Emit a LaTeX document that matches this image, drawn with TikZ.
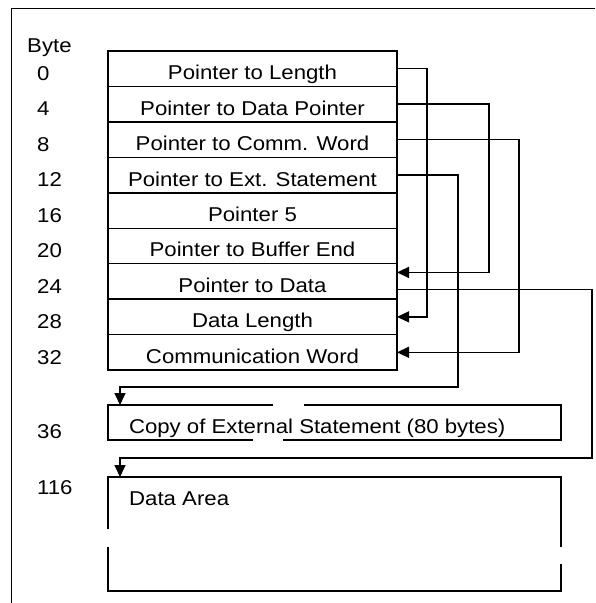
\documentclass[tikz,border=0pt]{standalone}
\usepackage{fontspec}
\setmainfont{Liberation Sans}[FakeStretch=1.11]
\usetikzlibrary{arrows.meta,positioning}

\begin{document}
\begin{tikzpicture}[x=1pt,y=-1pt,
    cell/.style={draw, line width=1.4pt, minimum width=289pt, minimum height=35.45pt,
      inner sep=0pt, outer sep=0pt, text height=22pt, text depth=0pt, font=\fontsize{20}{22}\selectfont},
    offs/.style={anchor=base west, inner sep=0pt, font=\fontsize{20}{22}\selectfont},
    area/.style={minimum width=453pt, inner sep=0pt, outer sep=0pt, anchor=north west},
    edge/.style={line width=1.4pt},
    ptr/.style={line width=1.4pt, -{Triangle[length=12pt,width=11pt]}}]
  \useasboundingbox (0,0) rectangle (595,603);

  % frame
  \draw[line width=1pt] (11,603) -- (11,8) -- (595,8);

  % the pointer block
  \node[cell, anchor=north west] (r0) at (108,51) {Pointer to Length};
  \node[cell, below=0pt of r0] (r1) {Pointer to Data Pointer};
  \node[cell, below=0pt of r1] (r2) {Pointer to Comm. Word};
  \node[cell, below=0pt of r2] (r3) {Pointer to Ext. Statement};
  \node[cell, below=0pt of r3] (r4) {Pointer 5};
  \node[cell, below=0pt of r4] (r5) {Pointer to Buffer End};
  \node[cell, below=0pt of r5] (r6) {Pointer to Data};
  \node[cell, below=0pt of r6] (r7) {Data Length};
  \node[cell, below=0pt of r7] (r8) {Communication Word};

  % byte offsets
  \node[offs] (byte) at (27,52) {Byte};
  \node[offs] (o0) at (37,80) {0};
  \node[offs] (o4) at (37,115.5) {4};
  \node[offs] (o8) at (37,151) {8};
  \node[offs] (o12) at (37,186.5) {12};
  \node[offs] (o16) at (37,222) {16};
  \node[offs] (o20) at (37,257.5) {20};
  \node[offs] (o24) at (37,293) {24};
  \node[offs] (o28) at (37,328.5) {28};
  \node[offs] (o32) at (37,364) {32};
  \node[offs] (o36) at (37,438) {36};
  \node[offs] (o116) at (37,494) {116};

  % external statement copy (broken outline)
  \node[area, minimum height=35pt] (copy) at (108,405) {};
  \node[cell, draw=none, minimum width=0pt, minimum height=0pt, anchor=west] (copytxt)
    at ([xshift=21pt,yshift=0.5pt]copy.west) {Copy of External Statement (80 bytes)};
  \draw[edge] ([xshift=165pt]copy.north west) -- (copy.north west) -- (copy.south west) -- ([xshift=145pt]copy.south west);
  \draw[edge] ([xshift=175pt]copy.south west) -- (copy.south east) -- (copy.north east) -- ([xshift=196pt]copy.north west);

  % data area (broken outline)
  \node[area, minimum height=114pt] (data) at (108,477) {};
  \node[offs] (datatxt) at (129,505) {Data Area};
  \draw[edge] ([yshift=-52pt]data.north west) -- (data.north west) -- (data.north east) -- ([yshift=-70pt]data.north east);
  \draw[edge] ([yshift=-70pt]data.north west) -- (data.south west) -- (data.south east) -- ([yshift=-87pt]data.north east);

  % pointers
  \coordinate (extturn) at (458,387);
  \coordinate (dataturn) at (592,458);
  \draw[ptr] (r0.east) -- ++(30,0) |- (r7.east);
  \draw[ptr] (r1.east) -- ++(92,0) |- ([yshift=9pt]r6.east);
  \draw[ptr] (r2.east) -- ++(122,0) |- (r8.east);
  \draw[ptr] (r3.east) -| (extturn) -| ([xshift=12pt]copy.north west);
  \draw[ptr] ([yshift=-8pt]r6.east) -| (dataturn) -| ([xshift=12pt]data.north west);
\end{tikzpicture}
\end{document}
